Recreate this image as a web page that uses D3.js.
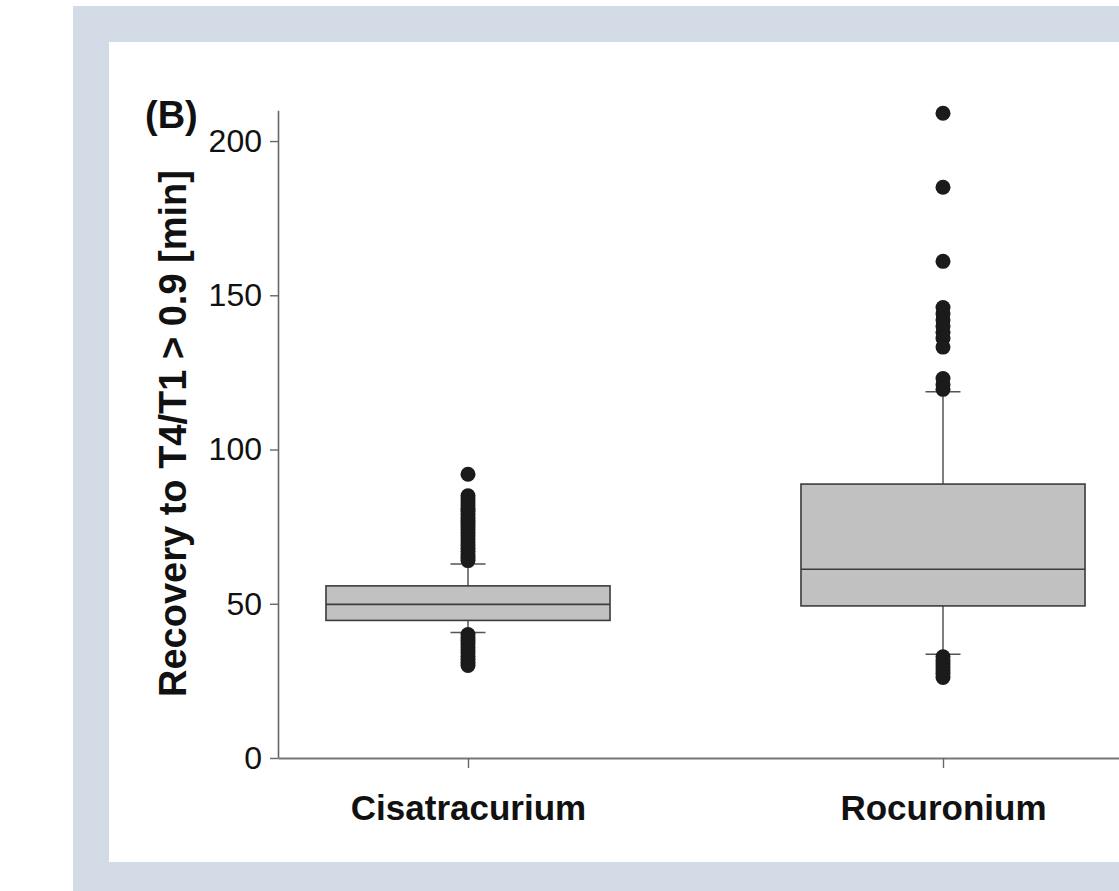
<!DOCTYPE html>
<html>
<head>
<meta charset="utf-8">
<script src="https://cdn.jsdelivr.net/npm/d3@7"></script>
<style>
  body { margin: 0; background: #fff; }
  svg { display: block; font-family: "Liberation Sans", Arial, Helvetica, sans-serif; }
</style>
</head>
<body>
<svg id="chart" width="1119" height="891"></svg>
<script>
var categories = ["Cisatracurium", "Rocuronium"];
var q1 = [44.6, 49.3];
var medians = [49.8, 61.2];
var q3 = [55.8, 88.8];
var whiskerLow = [40.7, 33.6];
var whiskerHigh = [62.9, 118.7];
var outliers_cis = [92, 85, 84, 83, 82, 81, 80, 79, 78, 77, 76, 75, 74, 73, 72, 71, 70, 69, 68, 67, 66, 65, 64,
                    40, 39, 38, 37, 36, 35, 34, 33, 32, 31, 30];
var outliers_roc = [209, 185, 161, 146, 144, 142, 140, 138, 136, 133.2, 123, 121, 119.5,
                    32.8, 31.5, 30.5, 29.5, 28.5, 27.5, 26.1];
var outliers = [outliers_cis, outliers_roc];
var yTicks = [0, 50, 100, 150, 200];

var svg = d3.select("#chart");

// page frame
svg.append("rect").attr("x", 73).attr("y", 6).attr("width", 1046).attr("height", 885).attr("fill", "#d2dbe6");
svg.append("rect").attr("x", 109).attr("y", 42).attr("width", 1010).attr("height", 820).attr("fill", "#fff");

var y = d3.scaleLinear().domain([0, 210]).range([758, 110.2]);
var x = d3.scalePoint().domain(categories).range([278, 1133]).padding(0.4);
var boxW = x.step() * 0.598;
var capW = 35;

var rows = categories.map(function(c, i) {
  return {name: c, q1: q1[i], med: medians[i], q3: q3[i], lo: whiskerLow[i], hi: whiskerHigh[i], out: outliers[i]};
});

// y axis
var yAxis = svg.append("g")
  .attr("transform", "translate(278,0)")
  .call(d3.axisLeft(y).tickValues(yTicks).tickSize(8).tickSizeOuter(0).tickPadding(8));
yAxis.select(".domain").attr("stroke", "#666").attr("stroke-width", 1.6);
yAxis.selectAll(".tick line").attr("stroke", "#666").attr("stroke-width", 1.4);
yAxis.selectAll(".tick text").attr("font-size", 32).attr("fill", "#111").attr("font-family", "Liberation Sans, Arial, sans-serif");

// x axis
var xAxis = svg.append("g")
  .attr("transform", "translate(0,758)")
  .call(d3.axisBottom(x).tickSize(10).tickSizeOuter(0));
xAxis.select(".domain").attr("stroke", "#777").attr("stroke-width", 2);
xAxis.selectAll(".tick line").attr("stroke", "#666").attr("stroke-width", 1.4);
xAxis.selectAll(".tick text")
  .attr("y", 62).attr("dy", 0)
  .attr("font-size", 35).attr("font-weight", "bold").attr("fill", "#111")
  .attr("font-family", "Liberation Sans, Arial, sans-serif");

var g = svg.append("g");
var box = g.selectAll("g.box").data(rows).enter().append("g").attr("class", "box");

// whiskers
box.append("line")
  .attr("x1", function(d) { return x(d.name); }).attr("x2", function(d) { return x(d.name); })
  .attr("y1", function(d) { return y(d.q3); }).attr("y2", function(d) { return y(d.hi); })
  .attr("stroke", "#555").attr("stroke-width", 1.5);
box.append("line")
  .attr("x1", function(d) { return x(d.name); }).attr("x2", function(d) { return x(d.name); })
  .attr("y1", function(d) { return y(d.q1); }).attr("y2", function(d) { return y(d.lo); })
  .attr("stroke", "#555").attr("stroke-width", 1.5);
box.append("line")
  .attr("x1", function(d) { return x(d.name) - capW / 2; }).attr("x2", function(d) { return x(d.name) + capW / 2; })
  .attr("y1", function(d) { return y(d.hi); }).attr("y2", function(d) { return y(d.hi); })
  .attr("stroke", "#555").attr("stroke-width", 1.5);
box.append("line")
  .attr("x1", function(d) { return x(d.name) - capW / 2; }).attr("x2", function(d) { return x(d.name) + capW / 2; })
  .attr("y1", function(d) { return y(d.lo); }).attr("y2", function(d) { return y(d.lo); })
  .attr("stroke", "#555").attr("stroke-width", 1.5);

// box
box.append("rect")
  .attr("x", function(d) { return x(d.name) - boxW / 2; })
  .attr("y", function(d) { return y(d.q3); })
  .attr("width", boxW)
  .attr("height", function(d) { return y(d.q1) - y(d.q3); })
  .attr("fill", "#c1c1c1").attr("stroke", "#3c3c3c").attr("stroke-width", 1.6);
box.append("line")
  .attr("x1", function(d) { return x(d.name) - boxW / 2; }).attr("x2", function(d) { return x(d.name) + boxW / 2; })
  .attr("y1", function(d) { return y(d.med); }).attr("y2", function(d) { return y(d.med); })
  .attr("stroke", "#3c3c3c").attr("stroke-width", 1.6);

// outliers
box.selectAll("circle")
  .data(function(d) { return d.out.map(function(v) { return {name: d.name, v: v}; }); })
  .enter().append("circle")
  .attr("cx", function(d) { return x(d.name); })
  .attr("cy", function(d) { return y(d.v); })
  .attr("r", 7.5)
  .attr("fill", "#1b1b1b");

// titles
svg.append("text")
  .attr("transform", "translate(186,433.5) rotate(-90)")
  .attr("text-anchor", "middle")
  .attr("font-size", 38).attr("font-weight", "bold").attr("fill", "#111")
  .text("Recovery to T4/T1 > 0.9 [min]");

svg.append("text")
  .attr("x", 145).attr("y", 128)
  .attr("font-size", 38).attr("font-weight", "bold").attr("fill", "#111")
  .text("(B)");
</script>
</body>
</html>
